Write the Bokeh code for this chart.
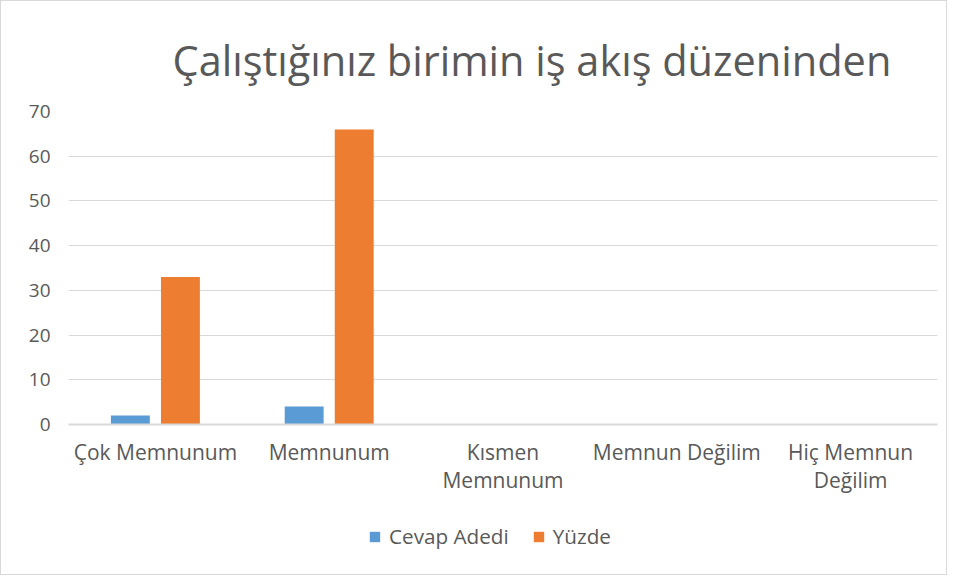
from bokeh.plotting import figure
from bokeh.layouts import column
from bokeh.models import (Range1d, Legend, LegendItem, ColumnDataSource, SingleIntervalTicker,
                          FixedTicker, LinearAxis)
from bokeh.transform import dodge
from bokeh.embed import file_html
from bokeh.resources import INLINE

categories = ["Çok Memnunum", "Memnunum", "Kısmen Memnunum", "Memnun Değilim", "Hiç Memnun Değilim"]
label_line1 = ["Çok Memnunum", "Memnunum", "Kısmen", "Memnun Değilim", "Hiç Memnun"]
label_line2 = [" ", " ", "Memnunum", " ", "Değilim"]
cevap_adedi = [2, 4, 0, 0, 0]
yuzde = [33, 66, 0, 0, 0]
series_names = ["Cevap Adedi", "Yüzde"]
series_colors = ["#5B9BD5", "#ED7D31"]
title_text = "Çalıştığınız birimin iş akış düzeninden"

FONT = "Open Sans"
GRAY = "#595959"
GRID = "#D9D9D9"

idx = list(range(len(categories)))
src = ColumnDataSource(dict(idx=idx, cat=categories, a=cevap_adedi, b=yuzde))

p = figure(width=945, height=503, x_range=Range1d(-0.5, len(categories) - 0.5),
           y_range=(0, 70), output_backend="svg", toolbar_location=None,
           min_border_left=67, min_border_right=9, min_border_top=110, min_border_bottom=80)
p.outline_line_color = None
p.background_fill_color = "white"

r1 = p.vbar(x=dodge("idx", -0.144), top="a", width=0.224, source=src,
            color=series_colors[0], line_color=None)
r2 = p.vbar(x=dodge("idx", 0.144), top="b", width=0.224, source=src,
            color=series_colors[1], line_color=None)

p.title.text = title_text
p.title.text_font = FONT
p.title.text_font_size = "41.5px"
p.title.text_font_style = "normal"
p.title.text_color = GRAY
p.title.align = "left"
p.title.offset = 104
p.title.standoff = 48

p.yaxis.ticker = SingleIntervalTicker(interval=10)
p.yaxis.axis_line_color = None
p.yaxis.major_tick_line_color = None
p.yaxis.minor_tick_line_color = None
p.yaxis.major_label_text_font = FONT
p.yaxis.major_label_text_font_size = "19px"
p.yaxis.major_label_text_color = GRAY
p.yaxis.major_label_standoff = 12

p.xaxis.ticker = FixedTicker(ticks=idx)
p.xaxis.axis_line_color = GRID
p.xaxis.axis_line_width = 2
p.xaxis.major_tick_line_color = None
p.xaxis.minor_tick_line_color = None
p.xaxis.major_label_overrides = {i: t for i, t in zip(idx, label_line1)}
p.xaxis.major_label_text_font = FONT
p.xaxis.major_label_text_font_size = "21px"
p.xaxis.major_label_text_color = GRAY
p.xaxis.major_label_standoff = 7

ax2 = LinearAxis(ticker=FixedTicker(ticks=idx), axis_line_color=None,
                 major_tick_line_color=None, minor_tick_line_color=None,
                 major_label_overrides={i: t for i, t in zip(idx, label_line2)},
                 major_label_text_font=FONT, major_label_text_font_size="21px",
                 major_label_text_color=GRAY, major_label_standoff=-9)
p.add_layout(ax2, "below")

p.xgrid.grid_line_color = None
p.ygrid.grid_line_color = GRID
p.ygrid.grid_line_width = 1

# legend strip below the chart
p2 = figure(width=945, height=70, x_range=(0, 1), y_range=(0, 1), output_backend="svg",
            toolbar_location=None, min_border=0)
p2.axis.visible = False
p2.grid.visible = False
p2.outline_line_color = None
lsrc = ColumnDataSource(dict(x=[0.5], top=[0]))
l1 = p2.vbar(x="x", top="top", width=0.01, source=lsrc, color=series_colors[0], line_color=None)
l2 = p2.vbar(x="x", top="top", width=0.01, source=lsrc, color=series_colors[1], line_color=None)
legend = Legend(items=[LegendItem(label=series_names[0], renderers=[l1]),
                       LegendItem(label=series_names[1], renderers=[l2])],
                orientation="horizontal", location=(300, 24),
                label_text_font=FONT, label_text_font_size="20.7px", label_text_color=GRAY,
                glyph_width=13, glyph_height=13, spacing=23, border_line_color=None,
                background_fill_alpha=0, label_standoff=8, margin=0, padding=4)
p2.add_layout(legend, "center")

layout = column(p, p2, spacing=0)
layout.styles = {"border": "1px solid #D9D9D9"}

open("out.html", "w").write(file_html(layout, INLINE))
